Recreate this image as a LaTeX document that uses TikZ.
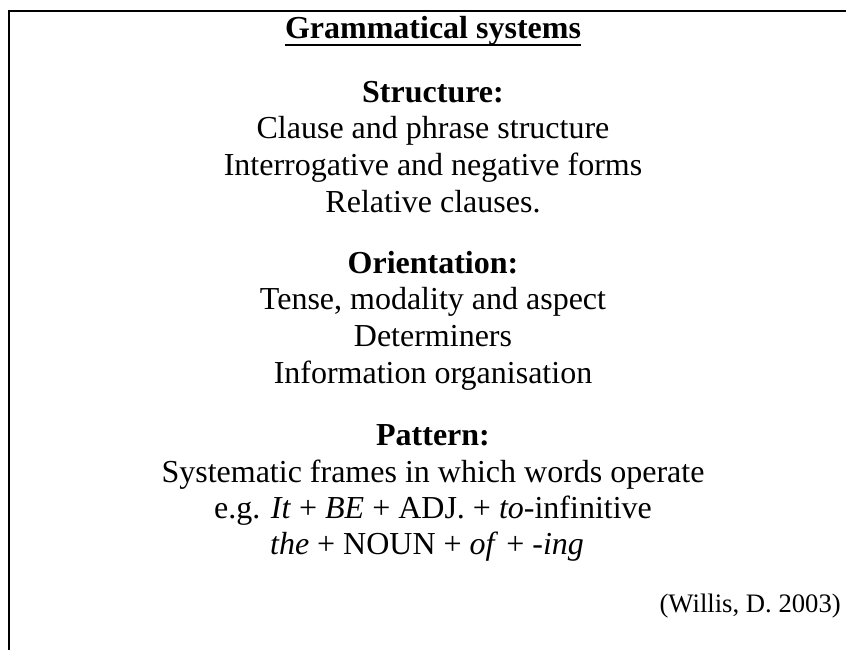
\documentclass[tikz,border=0pt]{standalone}
\usepackage{fontspec}
\setmainfont{Liberation Serif}
\begin{document}
\begin{tikzpicture}
[
    x=0.75pt, y=-0.75pt,
    line/.style={inner sep=0pt, anchor=base, font=\fontsize{24}{27}\selectfont},
    head/.style={line, font=\fontsize{24}{27}\selectfont\bfseries},
]
\useasboundingbox (0,0) rectangle (846,650);
% frame
\draw[line width=2pt] (846,11) -- (9,11) -- (9,650);
% title
\node[head] (title) at (433,38) {Grammatical systems};
\draw[line width=1.5pt] ([yshift=-5pt]title.base west) -- ([yshift=-5pt]title.base east);
% structure
\node[head] (struct) at (433,102) {Structure:};
\node[line] (clause) at (433,138) {Clause and phrase structure};
\node[line] (interrog) at (433,175) {Interrogative and negative forms};
\node[line] (relative) at (433,212) {Relative clauses.};
% orientation
\node[head] (orient) at (433,273) {Orientation:};
\node[line] (tense) at (433,309) {Tense, modality and aspect};
\node[line] (determ) at (433,346) {Determiners};
\node[line] (info) at (433,383) {Information organisation};
% pattern
\node[head] (pattern) at (433,445) {Pattern:};
\node[line] (frames) at (433,482) {Systematic frames in which words operate};
\node[line] (eg) at (433,518) {e.g. \textit{It} + \textit{BE} + ADJ. + \textit{to}-infinitive};
\node[line] (the) at (427,554) {\textit{the} + NOUN + \textit{of} + \textit{-ing}};
% source
\node[inner sep=0pt, anchor=base east, font=\fontsize{20}{24}\selectfont] (source) at (841,612) {(Willis, D. 2003)};
\end{tikzpicture}
\end{document}
